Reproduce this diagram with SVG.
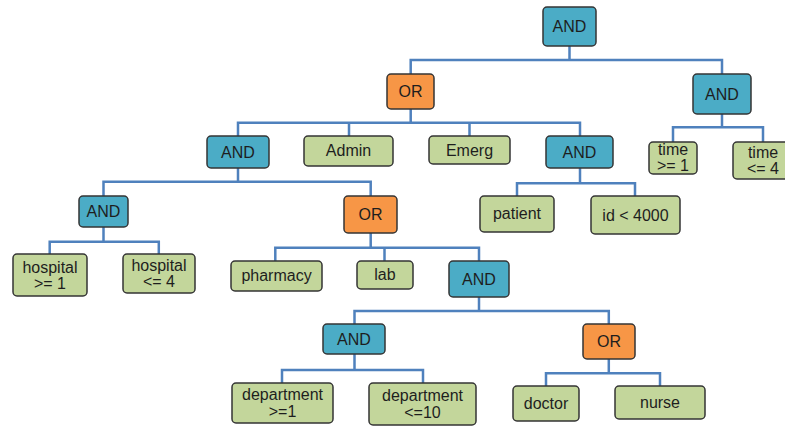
<svg xmlns="http://www.w3.org/2000/svg" width="785" height="428" viewBox="0 0 785 428">
<style>
.b{stroke:#353535;stroke-width:1.5}
.and{fill:#4BACC6}
.or{fill:#F79646}
.leaf{fill:#C3D69B}
text{font-family:"Liberation Sans",Arial,sans-serif;font-size:16px;fill:#1e1e1e;text-anchor:middle}
.c{fill:none;stroke:#4F81BD;stroke-width:2.5}
</style>
<rect width="785" height="428" fill="#ffffff"/>
<g id="connectors" class="c">
<path d="M569.5,46V60M410.7,74V60H722V74"/>
<path d="M410.7,109V122.7M238,136V122.7H580V136M349,122.7V136M469.5,122.7V136"/>
<path d="M722,114V127.3M673,142V127.3H763V142"/>
<path d="M238,168V181.7M103.5,196V181.7H370.7V196"/>
<path d="M580,168V183.3M517,196V183.3H635V196"/>
<path d="M103.5,227V241.7M49.7,254V241.7H158.8V254"/>
<path d="M370.7,233V247.7M275.3,261V247.7H479V261M384.5,247.7V261"/>
<path d="M479,297V311M354.5,324V311H608.8V324"/>
<path d="M354.5,354V370M282,383V370H423V383"/>
<path d="M608.8,359V373.3M546,386V373.3H660V386"/>
</g>
<g id="n-root"><rect class="b and" x="543" y="7" width="53" height="39" rx="4"/><text x="569.5" y="32">AND</text></g>
<g id="n-or1"><rect class="b or" x="387" y="74" width="47" height="35" rx="4"/><text x="410.5" y="97">OR</text></g>
<g id="n-andr"><rect class="b and" x="693" y="74" width="58" height="40" rx="4"/><text x="722" y="99.5">AND</text></g>
<g id="n-and2"><rect class="b and" x="207" y="136" width="62" height="32" rx="4"/><text x="238" y="157.5">AND</text></g>
<g id="n-admin"><rect class="b leaf" x="304" y="136" width="89" height="30" rx="4"/><text x="348.5" y="156">Admin</text></g>
<g id="n-emerg"><rect class="b leaf" x="429" y="136" width="81" height="28" rx="4"/><text x="469.5" y="155.5">Emerg</text></g>
<g id="n-andp"><rect class="b and" x="546" y="136" width="67" height="32" rx="4"/><text x="579.5" y="157.5">AND</text></g>
<g id="n-time1"><rect class="b leaf" x="649" y="142" width="48" height="32" rx="4"/><text x="673" y="154.5">time</text><text x="673" y="171">&gt;= 1</text></g>
<g id="n-time4"><rect class="b leaf" x="733" y="142" width="60" height="37" rx="4"/><text x="763" y="157.5">time</text><text x="763" y="174">&lt;= 4</text></g>
<g id="n-andh"><rect class="b and" x="79" y="196" width="49" height="31" rx="4"/><text x="103.5" y="217">AND</text></g>
<g id="n-or3"><rect class="b or" x="344" y="196" width="53" height="37" rx="4"/><text x="370.5" y="220">OR</text></g>
<g id="n-patient"><rect class="b leaf" x="480" y="196" width="74" height="36" rx="4"/><text x="517" y="219">patient</text></g>
<g id="n-id"><rect class="b leaf" x="591" y="196" width="89" height="38" rx="4"/><text x="635.5" y="220.5">id &lt; 4000</text></g>
<g id="n-hosp1"><rect class="b leaf" x="13" y="254" width="74" height="42" rx="4"/><text x="50" y="272.5">hospital</text><text x="50" y="288.5">&gt;= 1</text></g>
<g id="n-hosp4"><rect class="b leaf" x="123" y="254" width="72" height="39" rx="4"/><text x="159" y="271">hospital</text><text x="159" y="287">&lt;= 4</text></g>
<g id="n-pharmacy"><rect class="b leaf" x="231" y="261" width="91" height="30" rx="4"/><text x="276.5" y="281">pharmacy</text></g>
<g id="n-lab"><rect class="b leaf" x="357" y="261" width="56" height="28" rx="4"/><text x="385" y="280">lab</text></g>
<g id="n-and4"><rect class="b and" x="449" y="261" width="60" height="36" rx="4"/><text x="479" y="284.5">AND</text></g>
<g id="n-andd"><rect class="b and" x="323" y="324" width="62" height="30" rx="4"/><text x="354" y="344.5">AND</text></g>
<g id="n-ord"><rect class="b or" x="583" y="324" width="52" height="35" rx="4"/><text x="609" y="347">OR</text></g>
<g id="n-dept1"><rect class="b leaf" x="232" y="383" width="101" height="40" rx="4"/><text x="282.5" y="400">department</text><text x="282.5" y="416.5">&gt;=1</text></g>
<g id="n-dept10"><rect class="b leaf" x="369" y="383" width="107" height="42" rx="4"/><text x="422.5" y="401">department</text><text x="422.5" y="417.5">&lt;=10</text></g>
<g id="n-doctor"><rect class="b leaf" x="513" y="386" width="66" height="35" rx="4"/><text x="546" y="409">doctor</text></g>
<g id="n-nurse"><rect class="b leaf" x="615" y="386" width="90" height="33" rx="4"/><text x="660" y="408">nurse</text></g>
</svg>
